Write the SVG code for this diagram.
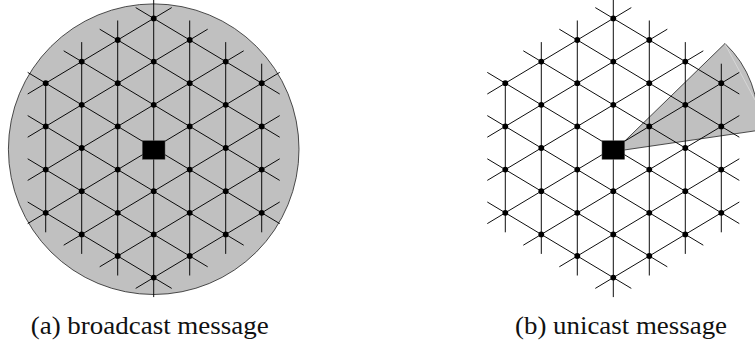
<svg xmlns="http://www.w3.org/2000/svg" xmlns:xlink="http://www.w3.org/1999/xlink" width="755" height="347" viewBox="0 0 755 347">
<style>
.ln{fill:none;stroke:#000;stroke-width:0.95}
.n{fill:#000}
.sq{fill:#000;stroke:#555;stroke-width:0.5}
.area{fill:#c0c0c0;stroke:#222;stroke-width:0.8}
</style>
<defs>
<path id="grid" d="M45.7 83.2V232.3M81.7 42.1V253.9M117.7 20.5V275.5M153.7 -1.1V297.1M189.7 20.5V275.5M225.7 42.1V253.9M261.7 63.7V232.3M27.7 72.4L279.7 223.6M27.7 115.6L243.7 245.2M27.7 158.8L207.7 266.8M27.7 202L171.7 288.4M63.7 50.8L279.7 180.4M99.7 29.2L279.7 137.2M135.7 7.6L279.7 94M27.7 223.6L279.7 72.4M27.7 180.4L243.7 50.8M27.7 137.2L207.7 29.2M27.7 94L171.7 7.6M63.7 245.2L279.7 115.6M99.7 266.8L279.7 158.8M135.7 288.4L279.7 202"/>
</defs>

<!-- (a) broadcast -->
<g id="panel-a">
<circle id="broadcast-range" class="area" cx="153.7" cy="149.2" r="145.3"/>
<g id="a-connectors"><use xlink:href="#grid" class="ln"/></g>
<g id="a-nodes">
<g id="a-n-3-3"><circle class="n" cx="45.7" cy="83.2" r="2.9"/></g>
<g id="a-n-3-1"><circle class="n" cx="45.7" cy="126.4" r="2.9"/></g>
<g id="a-n-3p1"><circle class="n" cx="45.7" cy="169.6" r="2.9"/></g>
<g id="a-n-3p3"><circle class="n" cx="45.7" cy="212.8" r="2.9"/></g>
<g id="a-n-2-4"><circle class="n" cx="81.7" cy="61.6" r="2.9"/></g>
<g id="a-n-2-2"><circle class="n" cx="81.7" cy="104.8" r="2.9"/></g>
<g id="a-n-2p0"><circle class="n" cx="81.7" cy="148" r="2.9"/></g>
<g id="a-n-2p2"><circle class="n" cx="81.7" cy="191.2" r="2.9"/></g>
<g id="a-n-2p4"><circle class="n" cx="81.7" cy="234.4" r="2.9"/></g>
<g id="a-n-1-5"><circle class="n" cx="117.7" cy="40" r="2.9"/></g>
<g id="a-n-1-3"><circle class="n" cx="117.7" cy="83.2" r="2.9"/></g>
<g id="a-n-1-1"><circle class="n" cx="117.7" cy="126.4" r="2.9"/></g>
<g id="a-n-1p1"><circle class="n" cx="117.7" cy="169.6" r="2.9"/></g>
<g id="a-n-1p3"><circle class="n" cx="117.7" cy="212.8" r="2.9"/></g>
<g id="a-n-1p5"><circle class="n" cx="117.7" cy="256" r="2.9"/></g>
<g id="a-n0-6"><circle class="n" cx="153.7" cy="18.4" r="2.9"/></g>
<g id="a-n0-4"><circle class="n" cx="153.7" cy="61.6" r="2.9"/></g>
<g id="a-n0-2"><circle class="n" cx="153.7" cy="104.8" r="2.9"/></g>
<g id="a-n0p2"><circle class="n" cx="153.7" cy="191.2" r="2.9"/></g>
<g id="a-n0p4"><circle class="n" cx="153.7" cy="234.4" r="2.9"/></g>
<g id="a-n0p6"><circle class="n" cx="153.7" cy="277.6" r="2.9"/></g>
<g id="a-n1-5"><circle class="n" cx="189.7" cy="40" r="2.9"/></g>
<g id="a-n1-3"><circle class="n" cx="189.7" cy="83.2" r="2.9"/></g>
<g id="a-n1-1"><circle class="n" cx="189.7" cy="126.4" r="2.9"/></g>
<g id="a-n1p1"><circle class="n" cx="189.7" cy="169.6" r="2.9"/></g>
<g id="a-n1p3"><circle class="n" cx="189.7" cy="212.8" r="2.9"/></g>
<g id="a-n1p5"><circle class="n" cx="189.7" cy="256" r="2.9"/></g>
<g id="a-n2-4"><circle class="n" cx="225.7" cy="61.6" r="2.9"/></g>
<g id="a-n2-2"><circle class="n" cx="225.7" cy="104.8" r="2.9"/></g>
<g id="a-n2p0"><circle class="n" cx="225.7" cy="148" r="2.9"/></g>
<g id="a-n2p2"><circle class="n" cx="225.7" cy="191.2" r="2.9"/></g>
<g id="a-n2p4"><circle class="n" cx="225.7" cy="234.4" r="2.9"/></g>
<g id="a-n3-3"><circle class="n" cx="261.7" cy="83.2" r="2.9"/></g>
<g id="a-n3-1"><circle class="n" cx="261.7" cy="126.4" r="2.9"/></g>
<g id="a-n3p1"><circle class="n" cx="261.7" cy="169.6" r="2.9"/></g>
<g id="a-n3p3"><circle class="n" cx="261.7" cy="212.8" r="2.9"/></g>
<g id="a-source"><rect class="sq" x="142.4" y="140.7" width="22.6" height="18.6"/></g>
</g>
<text x="30.7" y="333.5" font-family="'Liberation Serif', 'DejaVu Serif', serif" font-size="25" fill="#111" textLength="238" lengthAdjust="spacingAndGlyphs">(a) broadcast message</text>
</g>

<!-- (b) unicast -->
<g id="panel-b">
<g id="unicast-beam">
<path class="area" d="M614 151.5L725 43.5A105.5 105.5 0 0 1 757.5 130.5Z"/>
<path d="M725 44L755 100" fill="none" stroke="#e4e4e4" stroke-width="0.6"/>
</g>
<g transform="translate(459.6 0)">
<g id="b-connectors"><use xlink:href="#grid" class="ln"/></g>
<g id="b-nodes">
<g id="b-n-3-3"><circle class="n" cx="45.7" cy="83.2" r="2.9"/></g>
<g id="b-n-3-1"><circle class="n" cx="45.7" cy="126.4" r="2.9"/></g>
<g id="b-n-3p1"><circle class="n" cx="45.7" cy="169.6" r="2.9"/></g>
<g id="b-n-3p3"><circle class="n" cx="45.7" cy="212.8" r="2.9"/></g>
<g id="b-n-2-4"><circle class="n" cx="81.7" cy="61.6" r="2.9"/></g>
<g id="b-n-2-2"><circle class="n" cx="81.7" cy="104.8" r="2.9"/></g>
<g id="b-n-2p0"><circle class="n" cx="81.7" cy="148" r="2.9"/></g>
<g id="b-n-2p2"><circle class="n" cx="81.7" cy="191.2" r="2.9"/></g>
<g id="b-n-2p4"><circle class="n" cx="81.7" cy="234.4" r="2.9"/></g>
<g id="b-n-1-5"><circle class="n" cx="117.7" cy="40" r="2.9"/></g>
<g id="b-n-1-3"><circle class="n" cx="117.7" cy="83.2" r="2.9"/></g>
<g id="b-n-1-1"><circle class="n" cx="117.7" cy="126.4" r="2.9"/></g>
<g id="b-n-1p1"><circle class="n" cx="117.7" cy="169.6" r="2.9"/></g>
<g id="b-n-1p3"><circle class="n" cx="117.7" cy="212.8" r="2.9"/></g>
<g id="b-n-1p5"><circle class="n" cx="117.7" cy="256" r="2.9"/></g>
<g id="b-n0-6"><circle class="n" cx="153.7" cy="18.4" r="2.9"/></g>
<g id="b-n0-4"><circle class="n" cx="153.7" cy="61.6" r="2.9"/></g>
<g id="b-n0-2"><circle class="n" cx="153.7" cy="104.8" r="2.9"/></g>
<g id="b-n0p2"><circle class="n" cx="153.7" cy="191.2" r="2.9"/></g>
<g id="b-n0p4"><circle class="n" cx="153.7" cy="234.4" r="2.9"/></g>
<g id="b-n0p6"><circle class="n" cx="153.7" cy="277.6" r="2.9"/></g>
<g id="b-n1-5"><circle class="n" cx="189.7" cy="40" r="2.9"/></g>
<g id="b-n1-3"><circle class="n" cx="189.7" cy="83.2" r="2.9"/></g>
<g id="b-n1-1"><circle class="n" cx="189.7" cy="126.4" r="2.9"/></g>
<g id="b-n1p1"><circle class="n" cx="189.7" cy="169.6" r="2.9"/></g>
<g id="b-n1p3"><circle class="n" cx="189.7" cy="212.8" r="2.9"/></g>
<g id="b-n1p5"><circle class="n" cx="189.7" cy="256" r="2.9"/></g>
<g id="b-n2-4"><circle class="n" cx="225.7" cy="61.6" r="2.9"/></g>
<g id="b-n2-2"><circle class="n" cx="225.7" cy="104.8" r="2.9"/></g>
<g id="b-n2p0"><circle class="n" cx="225.7" cy="148" r="2.9"/></g>
<g id="b-n2p2"><circle class="n" cx="225.7" cy="191.2" r="2.9"/></g>
<g id="b-n2p4"><circle class="n" cx="225.7" cy="234.4" r="2.9"/></g>
<g id="b-n3-3"><circle class="n" cx="261.7" cy="83.2" r="2.9"/></g>
<g id="b-n3-1"><circle class="n" cx="261.7" cy="126.4" r="2.9"/></g>
<g id="b-n3p1"><circle class="n" cx="261.7" cy="169.6" r="2.9"/></g>
<g id="b-n3p3"><circle class="n" cx="261.7" cy="212.8" r="2.9"/></g>
<g id="b-source"><rect class="sq" x="142.4" y="140.7" width="22.6" height="18.6"/></g>
</g>
</g>
<text x="515" y="333.5" font-family="'Liberation Serif', 'DejaVu Serif', serif" font-size="25" fill="#111" textLength="212" lengthAdjust="spacingAndGlyphs">(b) unicast message</text>
</g>
</svg>
